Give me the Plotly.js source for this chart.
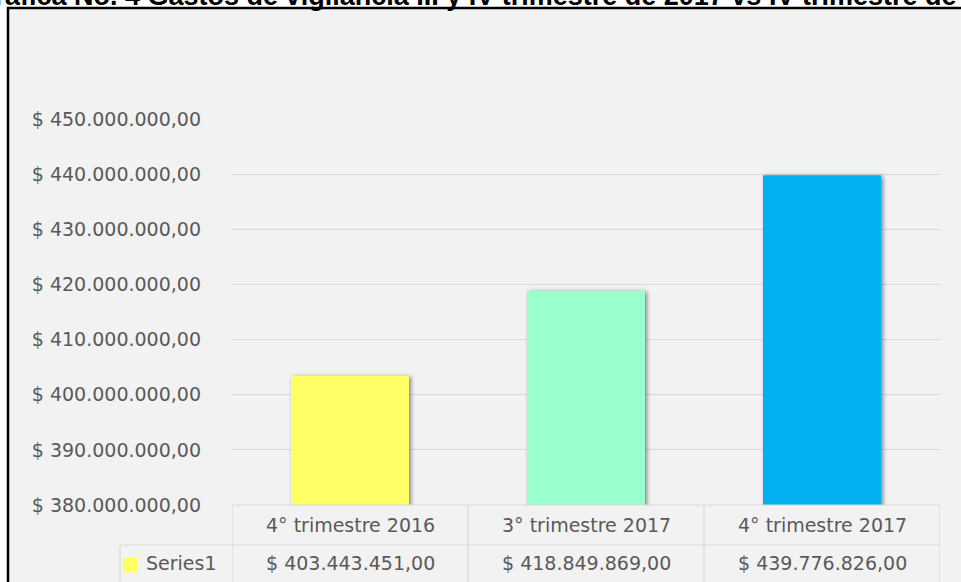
<!DOCTYPE html>
<html>
<head>
<meta charset="utf-8">
<script src="https://cdn.plot.ly/plotly-3.0.1.min.js"></script>
<style>
  html, body { margin: 0; padding: 0; background: #ffffff; }
  #chart { width: 961px; height: 582px; }
  .bars .point path { filter: drop-shadow(2px 1px 2px rgba(0,0,0,0.45)); }
</style>
</head>
<body>
<div id="chart"></div>
<script>
// ---- data ----
const titleText = 'Gráfica No. 4 Gastos de vigilancia III y IV trimestre de 2017 vs IV trimestre de 2016';
const categories = ['4° trimestre 2016', '3° trimestre 2017', '4° trimestre 2017'];
const values = [403443451.00, 418849869.00, 439776826.00];
const barColors = ['#FFFF66', '#99FFCC', '#00B0F0'];
const seriesName = 'Series1';
const tickValues = [380000000, 390000000, 400000000, 410000000, 420000000, 430000000, 440000000, 450000000];
const yRange = [380000000, 450000000];

// ---- helpers ----
function fmtMoney(v) {
  const parts = v.toFixed(2).split('.');
  const intPart = parts[0].replace(/\B(?=(\d{3})+(?!\d))/g, '.');
  return '$ ' + intPart + ',' + parts[1];
}

const FONT = 'DejaVu Sans';
const GREY = '#595959';
const LINE = '#d9d9d9';

// layout geometry (pixels)
const W = 961, H = 582;
const mL = 232, mR = 21, mT = 119, mB = 77;
const plotW = W - mL - mR, plotH = H - mT - mB;
const px2x = px => (px - mL) / plotW;
const py2y = py => (H - mB - py) / plotH;

const trace = {
  type: 'bar',
  x: categories,
  y: values,
  name: seriesName,
  marker: { color: barColors, line: { width: 0 } },
  width: 0.5,
  hoverinfo: 'none'
};

const shapes = [
  // outer frame
  { type: 'rect', xref: 'paper', yref: 'paper', layer: 'below',
    x0: px2x(8), x1: px2x(975), y0: py2y(600), y1: py2y(8),
    fillcolor: '#f2f2f2', line: { color: '#000000', width: 2.5 } },
  // data table: row separator
  { type: 'line', xref: 'paper', yref: 'paper',
    x0: px2x(120), x1: 1, y0: py2y(545), y1: py2y(545),
    line: { color: LINE, width: 1.2 } },
  // data table: left edge of legend cell
  { type: 'line', xref: 'paper', yref: 'paper',
    x0: px2x(120), x1: px2x(120), y0: py2y(545), y1: py2y(600),
    line: { color: LINE, width: 1.2 } },
  // table top line
  { type: 'line', xref: 'paper', yref: 'paper',
    x0: 0, x1: 1, y0: 0, y1: 0,
    line: { color: LINE, width: 1.2 } }
];
// vertical column separators at category boundaries
for (let i = 0; i <= categories.length; i++) {
  shapes.push({ type: 'line', xref: 'x', yref: 'paper',
    x0: i - 0.5, x1: i - 0.5, y0: py2y(600), y1: 0,
    line: { color: LINE, width: 1.2 } });
}

const annotations = [];
categories.forEach((c, i) => {
  annotations.push({ xref: 'x', yref: 'paper', x: i, y: py2y(525),
    text: c, showarrow: false, xanchor: 'center', yanchor: 'middle',
    font: { family: FONT, size: 19, color: GREY } });
  annotations.push({ xref: 'x', yref: 'paper', x: i, y: py2y(563),
    text: fmtMoney(values[i]), showarrow: false, xanchor: 'center', yanchor: 'middle',
    font: { family: FONT, size: 19, color: GREY } });
});
annotations.push({ xref: 'paper', yref: 'paper', x: px2x(120), y: py2y(563),
  text: '<span style="color:' + barColors[0] + '">■</span> ' + seriesName, showarrow: false,
  xanchor: 'left', yanchor: 'middle',
  font: { family: FONT, size: 19, color: GREY } });

const layout = {
  width: W, height: H,
  margin: { l: mL, r: mR, t: mT, b: mB, pad: 0 },
  paper_bgcolor: '#ffffff',
  plot_bgcolor: 'rgba(0,0,0,0)',
  showlegend: false,
  title: {
    text: '<b>' + titleText + '</b>',
    font: { family: 'Liberation Sans', size: 27, color: '#000000' },
    xref: 'container', yref: 'container',
    x: 0.519, xanchor: 'center',
    y: 1 - 4.5 / H, yanchor: 'bottom'
  },
  xaxis: {
    type: 'category',
    range: [-0.5, categories.length - 0.5],
    showticklabels: false,
    showgrid: false, zeroline: false, showline: false,
    ticks: ''
  },
  yaxis: {
    range: yRange,
    tickmode: 'array',
    tickvals: tickValues,
    ticktext: tickValues.map(fmtMoney),
    showgrid: true, gridcolor: LINE, gridwidth: 1.2,
    zeroline: false, showline: false, ticks: '',
    ticklabelstandoff: 30,
    tickfont: { family: FONT, size: 19, color: GREY }
  },
  shapes: shapes,
  annotations: annotations
};

Plotly.newPlot('chart', [trace], layout, { displayModeBar: false, staticPlot: true });
</script>
</body>
</html>
